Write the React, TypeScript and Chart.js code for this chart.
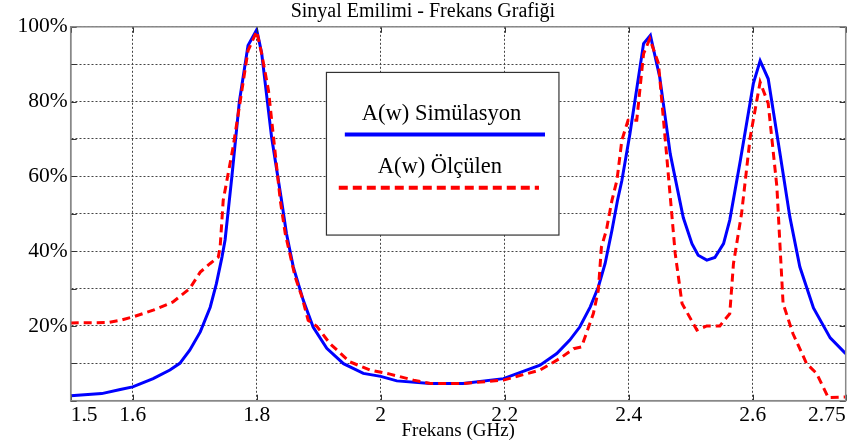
import React, { useEffect, useRef } from "react";
import { Chart, registerables } from "chart.js";

Chart.register(...registerables);

// ---- Data ----
const chartTitle = "Sinyal Emilimi - Frekans Grafiği";
const xAxisTitle = "Frekans (GHz)";
const seriesNames = ["A(w) Simülasyon", "A(w) Ölçülen"];

const xTickValues = [1.5, 1.6, 1.8, 2, 2.2, 2.4, 2.6, 2.75];

const simFreq = [1.5, 1.55, 1.58, 1.6, 1.633, 1.66, 1.676, 1.692, 1.709, 1.725, 1.735, 1.744, 1.749, 1.76, 1.772, 1.786, 1.8, 1.808, 1.824, 1.84, 1.848, 1.859, 1.875, 1.891, 1.913, 1.94, 1.972, 2.0, 2.026, 2.08, 2.133, 2.198, 2.257, 2.284, 2.305, 2.321, 2.338, 2.351, 2.362, 2.373, 2.382, 2.389, 2.402, 2.424, 2.435, 2.45, 2.467, 2.488, 2.502, 2.512, 2.526, 2.539, 2.553, 2.563, 2.58, 2.601, 2.612, 2.625, 2.644, 2.66, 2.676, 2.698, 2.725, 2.75];
const simVals = [1.3, 1.9, 3.0, 3.7, 5.9, 8.2, 10, 13.5, 18.4, 25, 31.3, 38.4, 43, 60, 80, 95, 99.2, 93, 70.5, 53.6, 44.7, 35.8, 26.9, 19.7, 14, 9.9, 7.3, 6.5, 5.3, 4.6, 4.6, 5.9, 9.5, 12.6, 16.2, 19.7, 25.1, 30.4, 36.7, 45.6, 53.6, 58.9, 71.4, 95.5, 97.7, 86.6, 66, 49, 42, 38.9, 37.6, 38.3, 42, 48.3, 64.2, 84.8, 90.9, 86.1, 66.1, 49.1, 35.8, 24.8, 16.8, 12.6];

const measFreq = [1.5, 1.56, 1.58, 1.6, 1.633, 1.665, 1.692, 1.709, 1.725, 1.738, 1.741, 1.746, 1.762, 1.786, 1.8, 1.808, 1.819, 1.838, 1.846, 1.862, 1.873, 1.883, 1.897, 1.918, 1.95, 1.983, 2.015, 2.053, 2.08, 2.133, 2.198, 2.257, 2.289, 2.311, 2.324, 2.343, 2.351, 2.356, 2.364, 2.373, 2.381, 2.389, 2.399, 2.413, 2.424, 2.434, 2.448, 2.461, 2.475, 2.486, 2.51, 2.526, 2.547, 2.563, 2.569, 2.582, 2.596, 2.612, 2.625, 2.639, 2.649, 2.665, 2.687, 2.703, 2.722, 2.75];
const measVals = [20.8, 20.9, 21.5, 22.4, 24.2, 26.4, 30, 34.4, 36.7, 38.4, 41, 53.6, 67.9, 93.6, 98.8, 92.8, 83, 53.6, 44.7, 33.1, 27.8, 21.5, 19.9, 15.3, 10.4, 8.2, 7.1, 5.5, 4.6, 4.6, 5.5, 8.2, 11.3, 13.9, 14.4, 23.3, 29.5, 41.1, 45.6, 53.6, 58.9, 69.7, 75, 75, 92.8, 96.8, 90.2, 66, 39.4, 26, 18.9, 20, 20, 23.3, 36.7, 50, 70.5, 85.2, 79.5, 57.2, 26, 17.9, 9.9, 7.3, 0.8, 1.0];

const FONT = "'Liberation Serif', 'Times New Roman', serif";

const framePlugin = {
  id: "frame",
  afterDatasetsDraw(chart: any) {
    const { ctx, chartArea: ca, scales } = chart;
    ctx.save();
    ctx.strokeStyle = "#333";
    ctx.lineWidth = 1;
    ctx.beginPath();
    scales.y.ticks.forEach((t: any) => {
      const y = Math.round(scales.y.getPixelForValue(t.value)) + 0.5;
      ctx.moveTo(ca.left, y);
      ctx.lineTo(ca.left + 6, y);
      ctx.moveTo(ca.right - 6, y);
      ctx.lineTo(ca.right, y);
    });
    scales.x.ticks.forEach((t: any) => {
      const x = Math.round(scales.x.getPixelForValue(t.value)) + 0.5;
      ctx.moveTo(x, ca.bottom);
      ctx.lineTo(x, ca.bottom - 6);
      ctx.moveTo(x, ca.top);
      ctx.lineTo(x, ca.top + 6);
    });
    ctx.stroke();
    ctx.strokeStyle = "#888";
    ctx.lineWidth = 1.5;
    ctx.strokeRect(ca.left, ca.top, ca.right - ca.left, ca.bottom - ca.top);
    ctx.restore();
  },
};

const boxLegendPlugin = {
  id: "boxLegend",
  afterDatasetsDraw(chart: any) {
    const { ctx, chartArea: ca } = chart;
    const W = ca.right - ca.left;
    const H = ca.bottom - ca.top;
    const l = ca.left + 0.33 * W;
    const r = ca.left + 0.63 * W;
    const t = ca.top + 0.122 * H;
    const b = ca.top + 0.557 * H;
    const bw = r - l;
    const bh = b - t;
    ctx.save();
    ctx.fillStyle = "#fff";
    ctx.fillRect(l, t, bw, bh);
    ctx.strokeStyle = "#333";
    ctx.lineWidth = 1.2;
    ctx.strokeRect(l, t, bw, bh);
    const datasets = chart.data.datasets;
    datasets.forEach((ds: any, i: number) => {
      ctx.font = `22.5px ${FONT}`;
      ctx.fillStyle = "#000";
      ctx.textAlign = "center";
      ctx.textBaseline = "alphabetic";
      ctx.fillText(ds.label, l + bw * (0.495 - i * 0.007), t + bh * (0.293 + i * 0.328));
      ctx.beginPath();
      ctx.strokeStyle = ds.borderColor;
      ctx.lineWidth = 4;
      ctx.setLineDash(ds.borderDash ? [9, 5] : []);
      const ly = t + bh * (0.381 + i * 0.328);
      ctx.moveTo(l + bw * (0.079 - i * 0.026), ly);
      ctx.lineTo(l + bw * (0.94 - i * 0.026), ly);
      ctx.stroke();
      ctx.setLineDash([]);
    });
    ctx.restore();
  },
};

export default function App() {
  const ref = useRef<HTMLCanvasElement>(null);

  useEffect(() => {
    if (!ref.current) return;
    const simData = simFreq.map((f, i) => ({ x: f, y: simVals[i] }));
    const measData = measFreq.map((f, i) => ({ x: f, y: measVals[i] }));
    const chart = new Chart(ref.current, {
      type: "line",
      data: {
        datasets: [
          {
            label: seriesNames[0],
            data: simData,
            borderColor: "#0000ff",
            borderWidth: 3,
            pointRadius: 0,
            tension: 0,
            fill: false,
            order: 2,
          },
          {
            label: seriesNames[1],
            data: measData,
            borderColor: "#ff0000",
            borderWidth: 3,
            borderDash: [8, 5],
            pointRadius: 0,
            tension: 0,
            fill: false,
            order: 1,
          },
        ],
      },
      options: {
        responsive: false,
        animation: false,
        devicePixelRatio: 1,
        layout: { padding: { left: 0, right: 7.3, top: 0, bottom: 0 } },
        plugins: {
          legend: { display: false },
          tooltip: { enabled: false },
          title: {
            display: true,
            text: chartTitle,
            color: "#000",
            font: { family: FONT, size: 20, weight: "normal" },
            padding: { top: 0, bottom: 2.8 },
          },
        },
        scales: {
          x: {
            type: "linear",
            min: 1.5,
            max: 2.75,
            afterBuildTicks: (scale: any) => {
              scale.ticks = xTickValues.map((v) => ({ value: v }));
            },
            afterFit: (scale: any) => {
              scale.height = 46.3;
              scale.paddingLeft = 0;
              scale.paddingRight = 0;
            },
            ticks: {
              autoSkip: false,
              maxRotation: 0,
              align: "inner",
              padding: 2,
              color: "#000",
              font: { family: FONT, size: 21.5 },
              callback: (v: any) => String(v),
            },
            grid: { color: "#444", lineWidth: 1, drawTicks: false },
            border: { display: true, color: "#888", width: 1.5, dash: [2, 2] },
            title: {
              display: true,
              text: xAxisTitle,
              color: "#000",
              font: { family: FONT, size: 19 },
              padding: { top: 0, bottom: 4.5 },
            },
          },
          y: {
            type: "linear",
            min: 0,
            max: 100,
            afterFit: (scale: any) => {
              scale.width = 70.7;
              scale.paddingTop = 0;
              scale.paddingBottom = 0;
            },
            ticks: {
              stepSize: 10,
              padding: 3,
              color: "#000",
              font: { family: FONT, size: 21.5 },
              callback: (v: any) => (v > 0 && v % 20 === 0 ? `${v}%` : ""),
            },
            grid: { color: "#444", lineWidth: 1, drawTicks: false },
            border: { display: true, color: "#888", width: 1.5, dash: [2, 2] },
          },
        },
      },
      plugins: [framePlugin, boxLegendPlugin],
    } as any);
    return () => chart.destroy();
  }, []);

  return (
    <div style={{ position: "fixed", left: 0, top: 0, width: 853, height: 447, background: "#fff" }}>
      <canvas ref={ref} width={853} height={447} style={{ display: "block", width: 853, height: 447 }} />
    </div>
  );
}
